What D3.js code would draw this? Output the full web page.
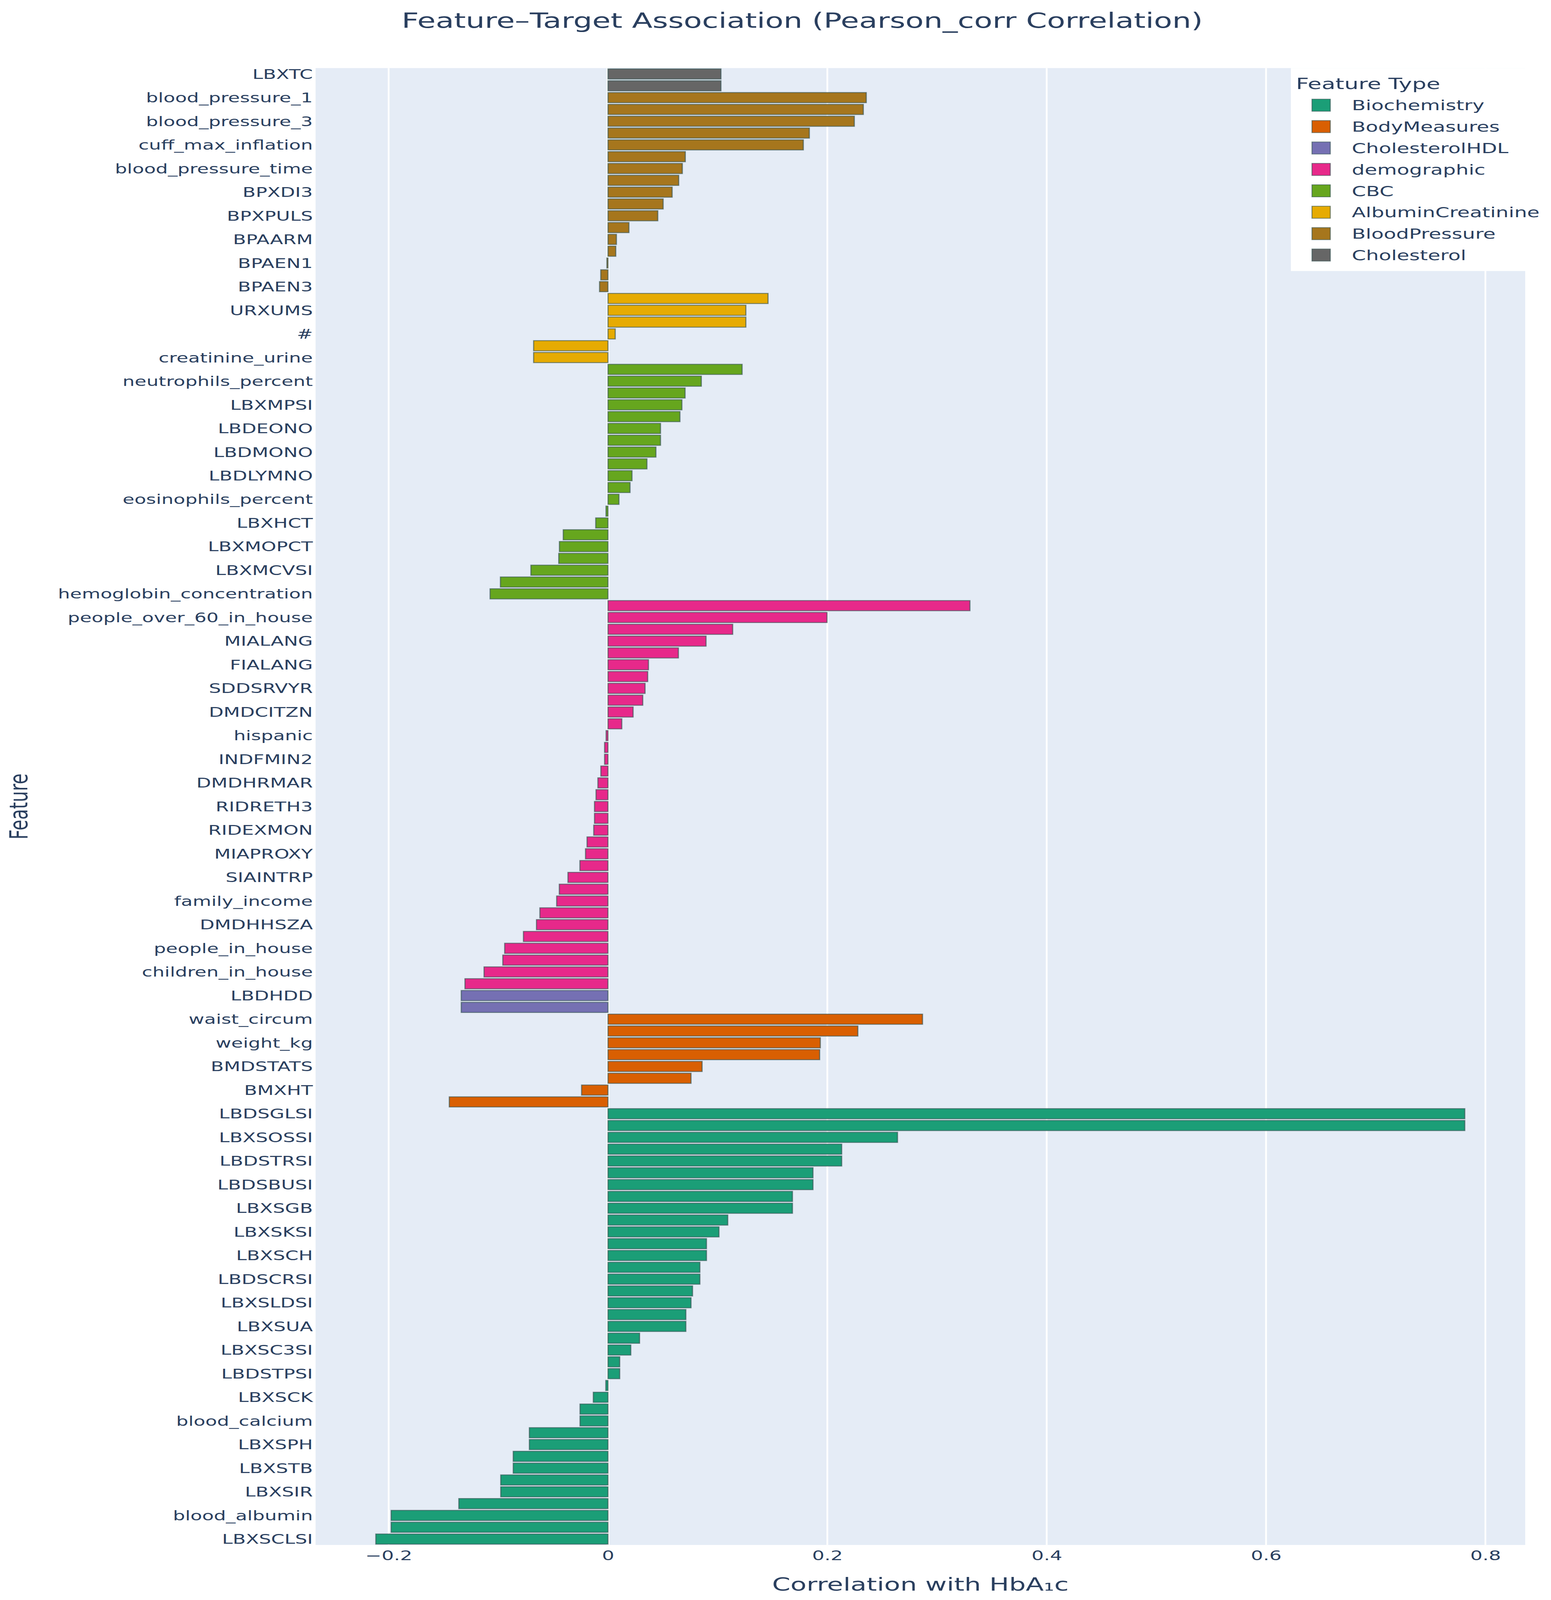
<!DOCTYPE html>
<html>
<head>
<meta charset="utf-8">
<script src="https://cdn.jsdelivr.net/npm/d3@7"></script>
<style>
html, body { margin: 0; padding: 0; background: #ffffff; width: 100%; height: 100%; overflow: hidden; }
svg { display: block; width: 100vw; height: 100vh; }
</style>
</head>
<body>
<svg id="chart" viewBox="0 0 3971 5030" preserveAspectRatio="none"></svg>
<script>
// ---------------- DATA ----------------
const titleText = "Feature\u2013Target Association (Pearson_corr Correlation)";
const xTitleText = "Correlation with HbA\u2081c";
const yTitleText = "Feature";
const legendTitleText = "Feature Type";

// legend order
const featureTypes = ["Biochemistry", "BodyMeasures", "CholesterolHDL", "demographic", "CBC", "AlbuminCreatinine", "BloodPressure", "Cholesterol"];
const typeColors   = ["#1b9e77", "#d95f02", "#7570b3", "#e7298a", "#66a61e", "#e6ab02", "#a6761d", "#666666"];

// bar groups from top to bottom
const barGroupOrder = ["Cholesterol", "BloodPressure", "AlbuminCreatinine", "CBC", "demographic", "CholesterolHDL", "BodyMeasures", "Biochemistry"];

const cholesterolValues = [0.103, 0.103];
const bloodPressureValues = [0.2355, 0.2328, 0.2246, 0.1836, 0.1781, 0.0705, 0.0678, 0.0645, 0.0585, 0.0503, 0.0454, 0.0191, 0.0077, 0.0071, -0.0010, -0.0066, -0.0077];
const albuminCreatinineValues = [0.1459, 0.1257, 0.1257, 0.0066, -0.0678, -0.0678];
const cbcValues = [0.1223, 0.0851, 0.0703, 0.0674, 0.0656, 0.0479, 0.0479, 0.0437, 0.0355, 0.0219, 0.0201, 0.0100, -0.0018, -0.0112, -0.0408, -0.0443, -0.0449, -0.0703, -0.0981, -0.1075];
const demographicValues = [0.3300, 0.1997, 0.1137, 0.0894, 0.0642, 0.0369, 0.0362, 0.0338, 0.0317, 0.0229, 0.0126, -0.0017, -0.0031, -0.0031, -0.0065, -0.0092, -0.0109, -0.0123, -0.0123, -0.0130, -0.0191, -0.0205, -0.0256, -0.0365, -0.0444, -0.0468, -0.0621, -0.0652, -0.0771, -0.0942, -0.0959, -0.1130, -0.1304];
const cholesterolHDLValues = [-0.1338, -0.1338];
const bodyMeasuresValues = [0.2868, 0.2278, 0.1936, 0.1930, 0.0858, 0.0757, -0.0241, -0.1447];
const biochemistryValues = [0.7812, 0.7812, 0.2640, 0.2131, 0.2131, 0.1869, 0.1869, 0.1682, 0.1682, 0.1092, 0.1012, 0.0898, 0.0898, 0.0838, 0.0838, 0.0771, 0.0757, 0.0710, 0.0710, 0.0288, 0.0208, 0.0107, 0.0107, -0.0020, -0.0134, -0.0255, -0.0255, -0.0717, -0.0717, -0.0864, -0.0864, -0.0978, -0.0978, -0.1360, -0.1977, -0.1977, -0.2117];

// tick labels shown (every other bar, starting with the top bar)
const tickLabels = ["LBXTC", "blood_pressure_1", "blood_pressure_3", "cuff_max_inflation", "blood_pressure_time", "BPXDI3", "BPXPULS", "BPAARM", "BPAEN1", "BPAEN3",
  "URXUMS", "#", "creatinine_urine", "neutrophils_percent", "LBXMPSI", "LBDEONO", "LBDMONO", "LBDLYMNO", "eosinophils_percent", "LBXHCT",
  "LBXMOPCT", "LBXMCVSI", "hemoglobin_concentration", "people_over_60_in_house", "MIALANG", "FIALANG", "SDDSRVYR", "DMDCITZN", "hispanic", "INDFMIN2",
  "DMDHRMAR", "RIDRETH3", "RIDEXMON", "MIAPROXY", "SIAINTRP", "family_income", "DMDHHSZA", "people_in_house", "children_in_house", "LBDHDD",
  "waist_circum", "weight_kg", "BMDSTATS", "BMXHT", "LBDSGLSI", "LBXSOSSI", "LBDSTRSI", "LBDSBUSI", "LBXSGB", "LBXSKSI",
  "LBXSCH", "LBDSCRSI", "LBXSLDSI", "LBXSUA", "LBXSC3SI", "LBDSTPSI", "LBXSCK", "blood_calcium", "LBXSPH", "LBXSTB",
  "LBXSIR", "blood_albumin", "LBXSCLSI"];

const xTickValues = [-0.2, 0, 0.2, 0.4, 0.6, 0.8];

// ---------------- BUILD ROWS ----------------
const groupValues = {
  "Cholesterol": cholesterolValues,
  "BloodPressure": bloodPressureValues,
  "AlbuminCreatinine": albuminCreatinineValues,
  "CBC": cbcValues,
  "demographic": demographicValues,
  "CholesterolHDL": cholesterolHDLValues,
  "BodyMeasures": bodyMeasuresValues,
  "Biochemistry": biochemistryValues
};
const rows = [];
barGroupOrder.forEach(g => groupValues[g].forEach(v => rows.push({ idx: rows.length, type: g, value: v })));

const colorScale = d3.scaleOrdinal().domain(featureTypes).range(typeColors);

// ---------------- LAYOUT ----------------
const S = 1.18;               // horizontal stretch of text seen in the reference
const FONT = "'DejaVu Sans', Verdana, sans-serif";
const TXT = "#2a3f5f";
const plot = { left: 808, right: 3905, top: 214, bottom: 4857 };

const svg = d3.select("#chart");
svg.append("rect").attr("x", 0).attr("y", 0).attr("width", 3971).attr("height", 5030).attr("fill", "#ffffff");

const x = d3.scaleLinear().domain([-0.2666, 0.8363]).range([plot.left, plot.right]);
const y = d3.scaleBand().domain(rows.map(r => r.idx)).range([plot.top, plot.bottom]).paddingInner(0.14).paddingOuter(0.07);

// plot background
svg.append("rect")
  .attr("x", plot.left).attr("y", plot.top)
  .attr("width", plot.right - plot.left).attr("height", plot.bottom - plot.top)
  .attr("fill", "#E5ECF6");

// grid lines
svg.append("g").selectAll("line").data(xTickValues.filter(v => v !== 0)).join("line")
  .attr("x1", d => x(d)).attr("x2", d => x(d))
  .attr("y1", plot.top).attr("y2", plot.bottom)
  .attr("stroke", "#ffffff").attr("stroke-width", 4.5);
// zero line
svg.append("line")
  .attr("x1", x(0)).attr("x2", x(0)).attr("y1", plot.top).attr("y2", plot.bottom)
  .attr("stroke", "#ffffff").attr("stroke-width", 7);

// bars
svg.append("g").selectAll("rect").data(rows).join("rect")
  .attr("x", d => x(Math.min(0, d.value)))
  .attr("width", d => Math.abs(x(d.value) - x(0)))
  .attr("y", d => y(d.idx))
  .attr("height", y.bandwidth())
  .attr("fill", d => colorScale(d.type))
  .attr("stroke", "rgb(47,79,79)")
  .attr("stroke-opacity", 0.6)
  .attr("stroke-width", 3);

// y axis
const yAxis = svg.append("g")
  .attr("transform", `translate(${plot.left},0)`)
  .call(d3.axisLeft(y)
    .tickValues(rows.filter(r => r.idx % 2 === 0).map(r => r.idx))
    .tickFormat(i => tickLabels[i / 2])
    .tickSize(0).tickPadding(0));
yAxis.select(".domain").remove();
yAxis.attr("font-family", FONT).attr("font-size", 41.5);
yAxis.selectAll("text")
  .attr("x", 0).attr("y", 0).attr("dy", null)
  .attr("fill", TXT)
  .attr("transform", `translate(-7,15) scale(${S},1)`);

// x axis
const fmt = d => d === 0 ? "0" : d3.format(".1f")(d);
const xAxis = svg.append("g")
  .attr("transform", `translate(0,${plot.bottom})`)
  .call(d3.axisBottom(x).tickValues(xTickValues).tickFormat(fmt).tickSize(0).tickPadding(0));
xAxis.select(".domain").remove();
xAxis.attr("font-family", FONT).attr("font-size", 42);
xAxis.selectAll("text")
  .attr("x", 0).attr("y", 0).attr("dy", null)
  .attr("fill", TXT)
  .attr("transform", `translate(0,48) scale(${S},1)`);

// titles
svg.append("text")
  .attr("transform", `translate(2054,87) scale(${S},1)`)
  .attr("text-anchor", "middle")
  .attr("font-family", FONT).attr("font-size", 65).attr("fill", TXT)
  .text(titleText);

svg.append("text")
  .attr("transform", `translate(${(plot.left + plot.right) / 2},5000) scale(${S},1)`)
  .attr("text-anchor", "middle")
  .attr("font-family", FONT).attr("font-size", 57).attr("fill", TXT)
  .text(xTitleText);

svg.append("text")
  .attr("transform", `translate(70,${(plot.top + plot.bottom) / 2}) scale(${S},1) rotate(-90)`)
  .attr("text-anchor", "middle")
  .attr("font-family", FONT).attr("font-size", 55).attr("fill", TXT)
  .text(yTitleText);

// legend
const legend = svg.append("g");
legend.append("rect")
  .attr("x", 3305).attr("y", plot.top).attr("width", 3971 - 3305).attr("height", 852 - plot.top)
  .attr("fill", "#ffffff");
legend.append("text")
  .attr("transform", `translate(3318,280) scale(${S},1)`)
  .attr("font-family", FONT).attr("font-size", 49).attr("fill", TXT)
  .text(legendTitleText);
const items = legend.selectAll("g.item").data(featureTypes).join("g")
  .attr("class", "item")
  .attr("transform", (d, k) => `translate(0,${330.7 + k * 67.3})`);
items.append("rect")
  .attr("x", 3359).attr("y", -19).attr("width", 47).attr("height", 38)
  .attr("fill", d => colorScale(d))
  .attr("stroke", "rgb(47,79,79)").attr("stroke-opacity", 0.6).attr("stroke-width", 2.5);
items.append("text")
  .attr("transform", `translate(3461,16) scale(${S},1)`)
  .attr("font-family", FONT).attr("font-size", 44).attr("fill", TXT)
  .text(d => d);
</script>
</body>
</html>
